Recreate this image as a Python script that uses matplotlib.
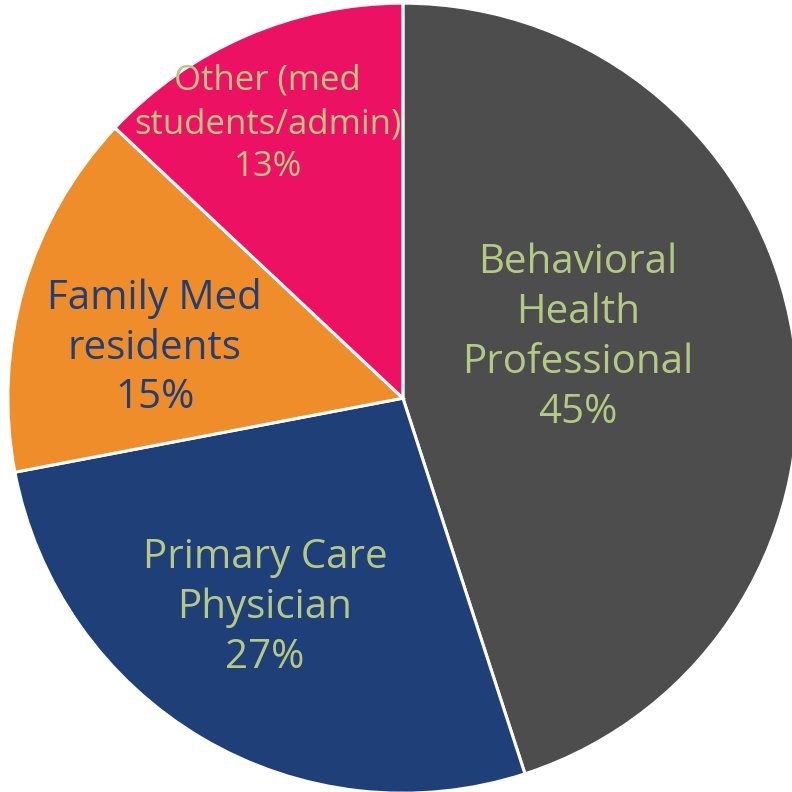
import matplotlib
matplotlib.use("Agg")
import matplotlib.pyplot as plt

# data
categories = ["Behavioral\nHealth\nProfessional", "Primary Care\nPhysician",
              "Family Med\nresidents", "Other (med\nstudents/admin)"]
shares = [45, 27, 15, 13]
colors = ["#4d4d4d", "#1f3f78", "#ef8d2b", "#ed1164"]
label_colors = ["#b5c983", "#b5c983", "#1f3f78", "#b5c983"]
label_sizes = [29, 29, 29, 25]
label_spacing = [1.31, 1.31, 1.31, 1.36]
label_pos = [(0.443, 0.152), (-0.349, -0.530), (-0.628, 0.127), (-0.342, 0.694)]


def main():
    fig = plt.figure(figsize=(7.92, 7.92), dpi=100)
    ax = fig.add_axes([0, 0, 1, 1])
    ax.pie(shares, colors=colors, startangle=90, counterclock=False,
           radius=1.0, wedgeprops=dict(edgecolor="white", linewidth=2.2))
    for cat, val, (x, y), c, fs, ls in zip(categories, shares, label_pos,
                                           label_colors, label_sizes, label_spacing):
        ax.text(x, y, f"{cat}\n{val}%", ha="center", va="center", color=c,
                fontsize=fs, family="Open Sans", linespacing=ls)
    ax.set_xlim(-1.020, 0.985)
    ax.set_ylim(-0.997, 1.008)
    ax.set_aspect("equal")
    ax.axis("off")
    fig.savefig("out.png", dpi=100)
    plt.close(fig)


if __name__ == "__main__":
    main()
